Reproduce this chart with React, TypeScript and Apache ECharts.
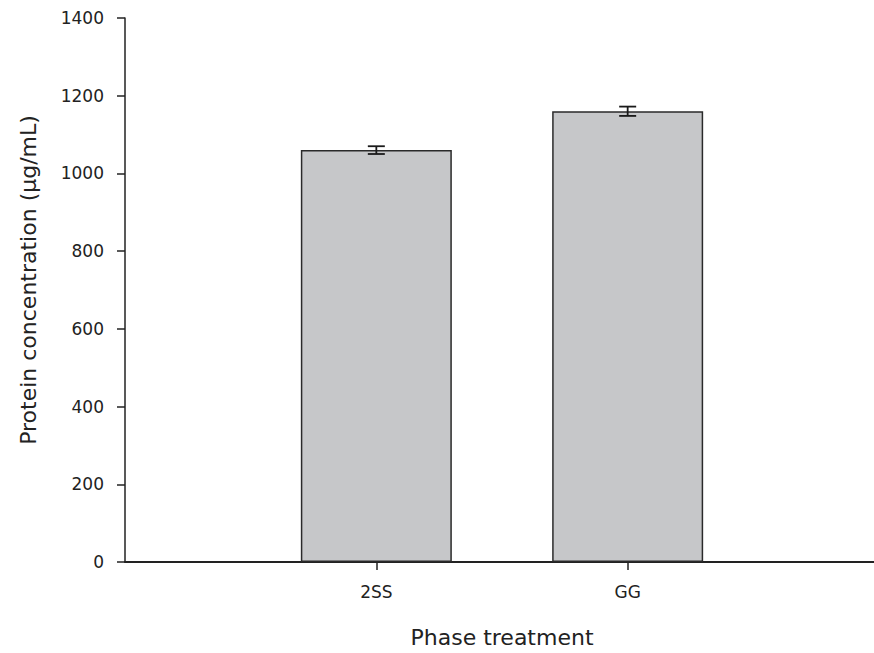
import React, { useEffect, useRef } from "react";
import * as echarts from "echarts";

const categories = ["2SS", "GG"];
const proteinMeans = [1060, 1160];
const proteinErrors = [10, 12];
const yTicks = [0, 200, 400, 600, 800, 1000, 1200, 1400];

const FONT = "'DejaVu Sans', 'Liberation Sans', Arial, sans-serif";
const INK = "#222222";

export default function App() {
  const ref = useRef<HTMLDivElement>(null);
  useEffect(() => {
    const chart = echarts.init(ref.current!, null, { renderer: "svg" });
    const axisData = ["", ...categories, ""];
    const barData = [null, ...proteinMeans, null];
    const errData = categories.map((_, i) => [
      i + 1,
      proteinMeans[i] - proteinErrors[i],
      proteinMeans[i] + proteinErrors[i],
    ]);
    chart.setOption({
      animation: false,
      grid: { left: 125, right: 0, top: 18, bottom: 91, containLabel: false },
      xAxis: {
        type: "category",
        data: axisData,
        boundaryGap: false,
        name: "Phase treatment",
        nameLocation: "middle",
        nameGap: 64,
        nameTextStyle: { fontFamily: FONT, fontSize: 22, color: INK },
        axisLine: { lineStyle: { color: INK, width: 2 } },
        axisTick: {
          length: 8,
          interval: (i: number) => i === 1 || i === 2,
          lineStyle: { color: INK, width: 1.5 },
        },
        axisLabel: {
          interval: 0,
          margin: 21,
          fontFamily: FONT,
          fontSize: 17,
          color: INK,
        },
        splitLine: { show: false },
      },
      yAxis: {
        type: "value",
        min: yTicks[0],
        max: yTicks[yTicks.length - 1],
        interval: yTicks[1] - yTicks[0],
        name: "Protein concentration (\u00b5g/mL)",
        nameLocation: "middle",
        nameGap: 86,
        nameRotate: 90,
        nameTextStyle: { fontFamily: FONT, fontSize: 22, color: INK, padding: [0, 0, 0, 20] },
        axisLine: { show: true, lineStyle: { color: INK, width: 1.5 } },
        axisTick: { show: true, length: 8, lineStyle: { color: INK, width: 1.5 } },
        axisLabel: {
          margin: 21,
          fontFamily: FONT,
          fontSize: 17,
          color: INK,
          formatter: (v: number) => String(v),
        },
        splitLine: { show: false },
      },
      series: [
        {
          type: "bar",
          data: barData,
          barWidth: 151,
          itemStyle: { color: "#c6c7c9", borderColor: "#2a2a2a", borderWidth: 1.5 },
        },
        {
          type: "custom",
          data: errData,
          encode: { x: 0, y: [1, 2] },
          z: 5,
          renderItem: (params: any, api: any) => {
            const x = api.value(0);
            const lo = api.coord([x, api.value(1)]);
            const hi = api.coord([x, api.value(2)]);
            const half = 8.5;
            const style = { stroke: "#1a1a1a", lineWidth: 1.8 };
            return {
              type: "group",
              children: [
                { type: "line", shape: { x1: lo[0], y1: lo[1], x2: hi[0], y2: hi[1] }, style },
                { type: "line", shape: { x1: hi[0] - half, y1: hi[1], x2: hi[0] + half, y2: hi[1] }, style },
                { type: "line", shape: { x1: lo[0] - half, y1: lo[1], x2: lo[0] + half, y2: lo[1] }, style },
              ],
            };
          },
        },
      ],
    });
    return () => chart.dispose();
  }, []);
  return (
    <div
      style={{ position: "fixed", left: 0, top: 0, width: 874, height: 653, overflow: "hidden", background: "#fff" }}
    >
      <div ref={ref} style={{ width: 882, height: 653 }} />
    </div>
  );
}
